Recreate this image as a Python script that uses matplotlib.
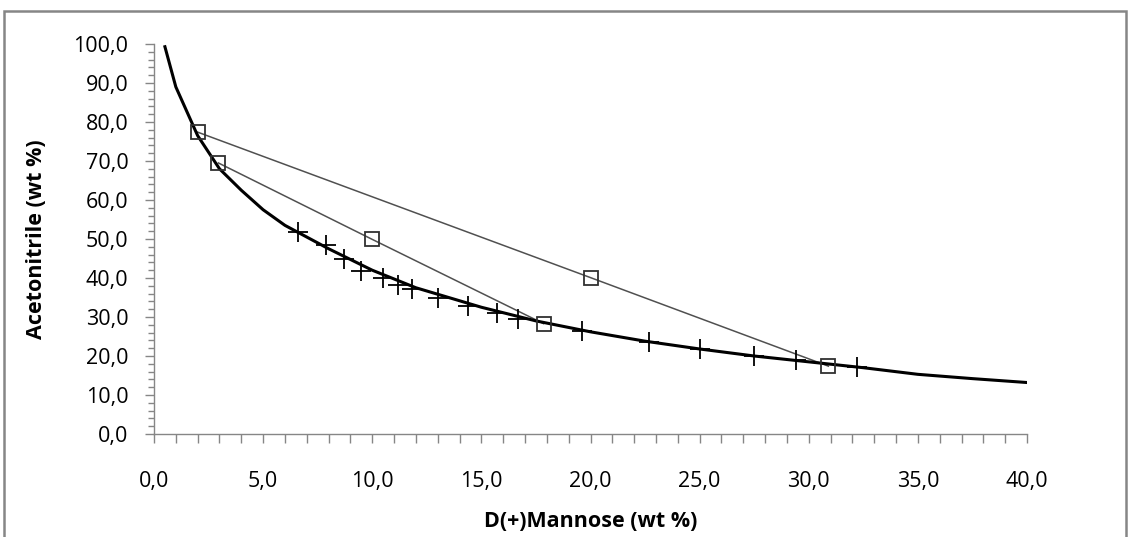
import matplotlib.pyplot as plt
from matplotlib.ticker import MultipleLocator, FuncFormatter
from matplotlib.patches import Rectangle

# binodal curve (fit)
curve_x = [0.5, 1.0, 2.0, 3.0, 4.0, 5.0, 6.0, 7.0, 8.0, 10.0, 12.0, 15.0, 17.5,
           20.0, 22.5, 25.0, 27.5, 30.0, 32.5, 35.0, 37.5, 40.0]
curve_y = [99.3, 89.0, 76.5, 68.0, 62.5, 57.5, 53.5, 50.5, 47.5, 42.0, 37.5, 32.5, 29.0,
           26.2, 23.8, 21.8, 20.0, 18.5, 17.0, 15.3, 14.2, 13.2]

# experimental binodal points
exp_x = [6.6, 7.9, 8.7, 9.5, 10.5, 11.2, 11.8, 13.0, 14.4, 15.7, 16.7,
         19.6, 22.7, 25.0, 27.5, 29.4, 32.2]
exp_y = [51.8, 48.4, 44.8, 41.8, 39.9, 38.2, 37.1, 34.9, 32.9, 31.1, 29.6,
         26.4, 23.6, 21.7, 19.9, 18.9, 17.2]

# tie lines: top phase, feed, bottom phase
tie1_x = [2.0, 20.0, 30.9]
tie1_y = [77.4, 40.1, 17.4]
tie2_x = [2.95, 10.0, 17.85]
tie2_y = [69.5, 49.9, 28.3]

plt.rcParams['font.family'] = ['Open Sans', 'DejaVu Sans']

fig = plt.figure(figsize=(11.29, 5.37), dpi=100)
ax = fig.add_axes([154 / 1129, 103 / 537, 873 / 1129, 390 / 537])

ax.plot(curve_x, curve_y, color='black', linewidth=2.2, zorder=3)
ax.plot(exp_x, exp_y, linestyle='none', marker='+', markersize=15,
        markeredgewidth=1.3, color='black', zorder=4)
for tx, ty in [(tie1_x, tie1_y), (tie2_x, tie2_y)]:
    ax.plot(tx, ty, color='#505050', linewidth=1.1, zorder=2)
    ax.plot(tx, ty, linestyle='none', marker='s', markersize=10,
            markerfacecolor='none', markeredgecolor='#303030',
            markeredgewidth=1.3, zorder=5)

ax.set_xlim(0, 40)
ax.set_ylim(0, 100)
ax.xaxis.set_major_locator(MultipleLocator(5))
ax.xaxis.set_minor_locator(MultipleLocator(1))
ax.yaxis.set_major_locator(MultipleLocator(10))
ax.yaxis.set_minor_locator(MultipleLocator(2))
fmt = FuncFormatter(lambda v, p: ('%.1f' % v).replace('.', ','))
ax.xaxis.set_major_formatter(fmt)
ax.yaxis.set_major_formatter(fmt)

for s in ['top', 'right']:
    ax.spines[s].set_visible(False)
for s in ['left', 'bottom']:
    ax.spines[s].set_color('#868686')
    ax.spines[s].set_linewidth(1.0)

ax.tick_params(which='both', direction='out', color='#868686', width=1.0)
ax.tick_params(which='major', length=6.5, labelsize=15.5)
ax.tick_params(axis='x', which='minor', length=6.5)
ax.tick_params(axis='y', which='minor', length=4.5)
ax.tick_params(axis='x', which='major', pad=20)
ax.tick_params(axis='y', which='major', pad=12)

ax.set_xlabel('D(+)Mannose (wt %)', fontsize=15.5, fontweight='bold', labelpad=14)
ax.set_ylabel('Acetonitrile (wt %)', fontsize=15.5, fontweight='bold', labelpad=19)

# chart area border
fig.patches.append(Rectangle((3.5 / 1129, -0.05), 1122 / 1129, 1.05 - 11 / 537,
                             transform=fig.transFigure, fill=False,
                             edgecolor='#868686', linewidth=1.8))

fig.savefig('out.png', dpi=100)
